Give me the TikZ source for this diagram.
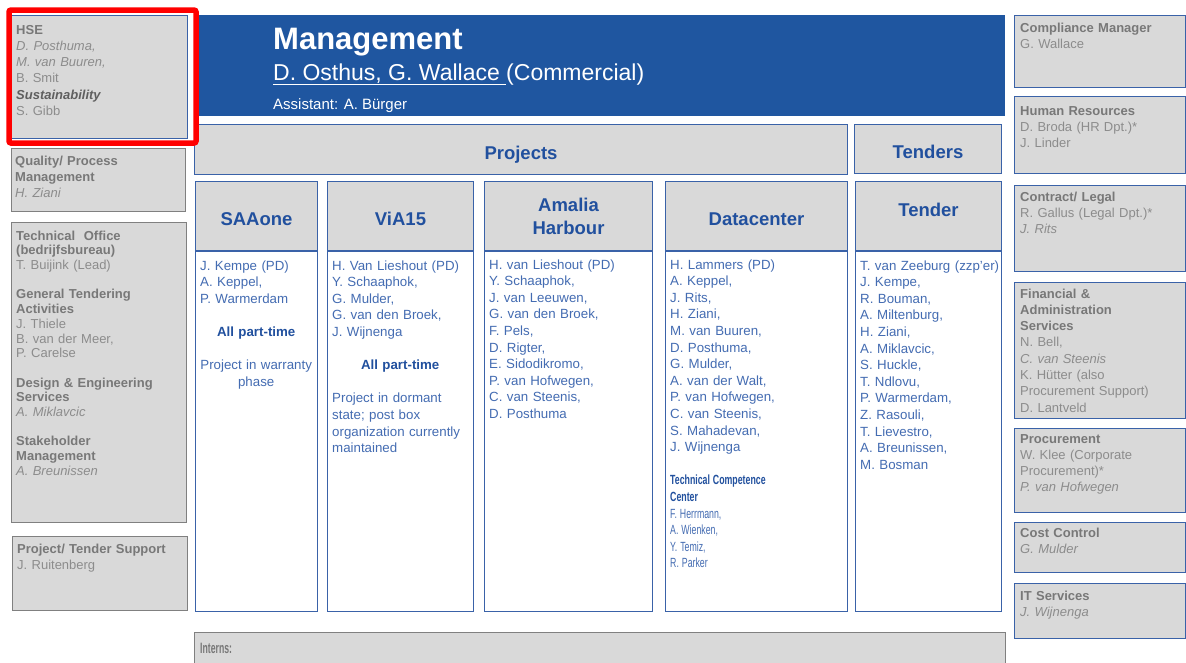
\documentclass[tikz,border=0pt]{standalone}
\usepackage{fontspec}
\setmainfont{Liberation Sans}
\usetikzlibrary{positioning}

\definecolor{mgmtblue}{RGB}{31,86,160}
\definecolor{lineblue}{RGB}{58,98,168}
\definecolor{headblue}{RGB}{33,80,158}
\definecolor{nameblue}{RGB}{68,108,178}
\definecolor{panel}{RGB}{217,217,217}
\definecolor{linegray}{RGB}{128,128,128}
\definecolor{txtgray}{RGB}{140,140,140}
\definecolor{ttlgray}{RGB}{120,120,120}
\definecolor{sustgray}{RGB}{95,95,95}

\newcommand{\ttl}[1]{{\bfseries\color{ttlgray}#1}}
\newcommand{\nm}[1]{\textit{#1}}
\newcommand{\squeeze}[2][0.66]{\scalebox{#1}[1]{#2}}

\tikzset{
   panelbox/.style={draw=lineblue, line width=1pt, fill=panel, anchor=north west, inner sep=0pt},
   graybox/.style={panelbox, draw=linegray},
   textat/.style={below right=#1, anchor=base west},
   sidetext/.style={inner sep=0pt, text width=165pt, align=left, text=txtgray,
      font=\fontsize{13pt}{16.3pt}\selectfont},
   colhead/.style={panelbox, minimum height=69pt, text=headblue, align=center,
      font=\fontsize{18.5pt}{23pt}\selectfont\bfseries},
   headtext/.style={inner sep=0pt, anchor=base, text=headblue,
      font=\fontsize{18.5pt}{23pt}\selectfont\bfseries},
   colbody/.style={draw=lineblue, line width=1pt, fill=white, inner sep=0pt, minimum height=360pt},
   coltext/.style={inner sep=0pt, align=left, text=nameblue,
      font=\fontsize{13.3pt}{16.6pt}\selectfont},
   mgmttext/.style={inner sep=0pt, text=white},
   hilite/.style={draw=red, line width=5.5pt, rounded corners=2pt}
}

\begin{document}
\begin{tikzpicture}[x=1pt, y=-1pt]
   \useasboundingbox (0,0) rectangle (1186,662);

   \node[panelbox, minimum width=176pt, minimum height=123pt] (hse) at (11,15) {};
   \node[graybox, minimum width=174pt, minimum height=63pt] (qual) at (11,148) {};
   \node[graybox, minimum width=175pt, minimum height=300pt] (tech) at (11,222) {};
   \node[graybox, minimum width=175pt, minimum height=74pt] (supp) at (12,536) {};

   \node[sidetext, textat=19pt and 5pt of hse.north west] (hseT)
      {\ttl{HSE}\\ \nm{D. Posthuma,}\\ \nm{M. van Buuren,}\\ B. Smit\\
       {\bfseries\itshape\color{sustgray}Sustainability}\\ S. Gibb};
   \node[sidetext, textat=17pt and 4pt of qual.north west] (qualT)
      {\ttl{Quality/ Process}\\ \ttl{Management}\\ \nm{H. Ziani}};
   \node[sidetext, textat=18pt and 5pt of tech.north west, font=\fontsize{13pt}{14.8pt}\selectfont] (techT)
      {\ttl{Technical\ \ Office}\\ \ttl{(bedrijfsbureau)}\\ T. Buijink (Lead)\\[14.3pt]
       \ttl{General Tendering}\\ \ttl{Activities}\\ J. Thiele\\ B. van der Meer,\\ P. Carelse\\[14.3pt]
       \ttl{Design \& Engineering}\\ \ttl{Services}\\ \nm{A. Miklavcic}\\[14.3pt]
       \ttl{Stakeholder}\\ \ttl{Management}\\ \nm{A. Breunissen}};
   \node[sidetext, textat=17pt and 5pt of supp.north west] (suppT)
      {\ttl{Project/ Tender Support}\\ J. Ruitenberg};

   \node[fill=mgmtblue, anchor=north west, inner sep=0pt, minimum width=810pt, minimum height=101pt] (mgmt) at (195,15) {};
   \node[mgmttext, textat=34pt and 78pt of mgmt.north west, font=\fontsize{31pt}{31pt}\selectfont\bfseries] (mgmtA) {Management};
   \node[mgmttext, textat=65pt and 78pt of mgmt.north west, font=\fontsize{23pt}{23pt}\selectfont] (mgmtB)
      {\underline{D. Osthus, G. Wallace }(Commercial)};
   \node[mgmttext, textat=94.5pt and 78pt of mgmt.north west, font=\fontsize{15pt}{15pt}\selectfont] (mgmtC)
      {Assistant: A. Bürger};

   \node[panelbox, minimum width=653pt, minimum height=50pt] (proj) at (194,124) {};
   \node[panelbox, minimum width=147pt, minimum height=49pt] (tend) at (854,124) {};
   \node[headtext] (projT) at ([yshift=16pt]proj.south) {Projects};
   \node[headtext] (tendT) at ([yshift=16pt]tend.south) {Tenders};

   \node[colhead, minimum width=122pt, text height=19.3pt] (saaH) at (195,181) {SAAone};
   \node[colhead, minimum width=146pt, text height=19.3pt] (viaH) at (327,181) {ViA15};
   \node[colhead, minimum width=168pt] (amaH) at (484,181) {Amalia\\Harbour};
   \node[colhead, minimum width=182pt, text height=19.3pt] (dcH) at (665,181) {Datacenter};
   \node[colhead, minimum width=146pt, text depth=12pt] (tdrH) at (855,181) {Tender};

   \node[colbody, minimum width=122pt, below=0pt of saaH] (saaB) {};
   \node[colbody, minimum width=146pt, below=0pt of viaH] (viaB) {};
   \node[colbody, minimum width=168pt, below=0pt of amaH] (amaB) {};
   \node[colbody, minimum width=182pt, below=0pt of dcH] (dcB) {};
   \node[colbody, minimum width=146pt, below=0pt of tdrH] (tdrB) {};

   \node[coltext, text width=112pt, textat=19pt and 5pt of saaB.north west] (saaT)
      {J. Kempe (PD)\\ A. Keppel,\\ P. Warmerdam\\[16.6pt]
       \makebox[\linewidth]{\bfseries\color{headblue}All part-time}\\[16.6pt]
       \makebox[\linewidth]{Project in warranty}\\ \makebox[\linewidth]{phase}};
   \node[coltext, text width=136pt, textat=19pt and 5pt of viaB.north west] (viaT)
      {H. Van Lieshout (PD)\\ Y. Schaaphok,\\ G. Mulder,\\ G. van den Broek,\\ J. Wijnenga\\[16.6pt]
       \makebox[\linewidth]{\bfseries\color{headblue}All part-time}\\[16.6pt]
       Project in dormant\\ state; post box\\ organization currently\\ maintained};
   \node[coltext, text width=158pt, textat=18pt and 5pt of amaB.north west] (amaT)
      {H. van Lieshout (PD)\\ Y. Schaaphok,\\ J. van Leeuwen,\\ G. van den Broek,\\ F. Pels,\\
       D. Rigter,\\ E. Sidodikromo,\\ P. van Hofwegen,\\ C. van Steenis,\\ D. Posthuma};
   \node[coltext, text width=172pt, textat=18pt and 5pt of dcB.north west] (dcT)
      {H. Lammers (PD)\\ A. Keppel,\\ J. Rits,\\ H. Ziani,\\ M. van Buuren,\\ D. Posthuma,\\
       G. Mulder,\\ A. van der Walt,\\ P. van Hofwegen,\\ C. van Steenis,\\ S. Mahadevan,\\ J. Wijnenga\\[16.6pt]
       \squeeze{\bfseries\color{headblue}Technical Competence}\\ \squeeze{\bfseries\color{headblue}Center}\\
       \squeeze{F. Herrmann,}\\ \squeeze{A. Wienken,}\\ \squeeze{Y. Temiz,}\\ \squeeze{R. Parker}};
   \node[coltext, text width=142pt, textat=19pt and 5pt of tdrB.north west] (tdrT)
      {T. van Zeeburg (zzp'er)\\ J. Kempe,\\ R. Bouman,\\ A. Miltenburg,\\ H. Ziani,\\ A. Miklavcic,\\
       S. Huckle,\\ T. Ndlovu,\\ P. Warmerdam,\\ Z. Rasouli,\\ T. Lievestro,\\ A. Breunissen,\\ M. Bosman};

   \node[panelbox, minimum width=171pt, minimum height=72pt] (comp) at (1014,15) {};
   \node[panelbox, minimum width=171pt, minimum height=77pt] (hr) at (1014,96) {};
   \node[panelbox, minimum width=171pt, minimum height=86pt] (legal) at (1014,185) {};
   \node[panelbox, minimum width=171pt, minimum height=136pt] (fin) at (1014,282) {};
   \node[panelbox, minimum width=171pt, minimum height=84pt] (proc) at (1014,428) {};
   \node[panelbox, minimum width=171pt, minimum height=50pt] (cost) at (1014,522) {};
   \node[panelbox, minimum width=171pt, minimum height=55pt] (it) at (1014,583) {};

   \node[sidetext, textat=17pt and 6pt of comp.north west] (compT)
      {\ttl{Compliance Manager}\\ G. Wallace};
   \node[sidetext, textat=19pt and 6pt of hr.north west] (hrT)
      {\ttl{Human Resources}\\ D. Broda (HR Dpt.)*\\ J. Linder};
   \node[sidetext, textat=16pt and 6pt of legal.north west] (legalT)
      {\ttl{Contract/ Legal}\\ R. Gallus (Legal Dpt.)*\\ \nm{J. Rits}};
   \node[sidetext, textat=16pt and 6pt of fin.north west] (finT)
      {\ttl{Financial \&}\\ \ttl{Administration}\\ \ttl{Services}\\ N. Bell,\\ \nm{C. van Steenis}\\
       K. Hütter (also\\ Procurement Support)\\ D. Lantveld};
   \node[sidetext, textat=15pt and 6pt of proc.north west] (procT)
      {\ttl{Procurement}\\ W. Klee (Corporate\\ Procurement)*\\ \nm{P. van Hofwegen}};
   \node[sidetext, textat=15pt and 6pt of cost.north west] (costT)
      {\ttl{Cost Control}\\ \nm{G. Mulder}};
   \node[sidetext, textat=17pt and 6pt of it.north west] (itT)
      {\ttl{IT Services}\\ \nm{J. Wijnenga}};

   \node[graybox, minimum width=811pt, minimum height=40pt] (intern) at (194,632) {};
   \node[inner sep=0pt, text=ttlgray, textat=21pt and 6pt of intern.north west,
      font=\bfseries\fontsize{15pt}{15pt}\selectfont] (internT) {\squeeze[0.58]{Interns:}};

   \draw[hilite] (9,10) rectangle (196,143);
\end{tikzpicture}
\end{document}
